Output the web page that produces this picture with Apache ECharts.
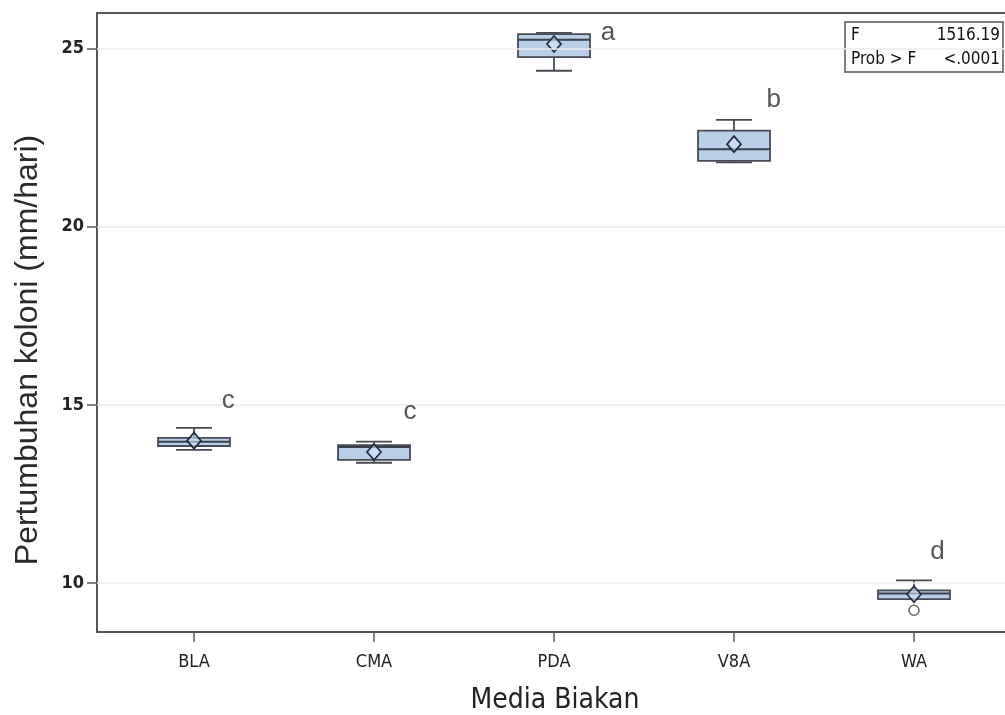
<!DOCTYPE html>
<html>
<head>
<meta charset="utf-8">
<script src="https://cdn.jsdelivr.net/npm/echarts@6/dist/echarts.min.js"></script>
<style>
html,body{margin:0;padding:0;background:#fff;}
#chart{width:1005px;height:715px;}
</style>
</head>
<body>
<div id="chart"></div>
<script>
// ---- data ----
var categories = ['BLA', 'CMA', 'PDA', 'V8A', 'WA'];
var lowWhisker = [13.74, 13.38, 24.38, 21.81, 9.55];
var q1Values   = [13.85, 13.46, 24.76, 21.85, 9.55];
var medians    = [13.97, 13.82, 25.25, 22.18, 9.71];
var q3Values   = [14.08, 13.87, 25.41, 22.70, 9.80];
var highWhisker= [14.36, 13.97, 25.44, 23.00, 10.08];
var means      = [14.00, 13.68, 25.13, 22.32, 9.69];
var outliers   = [[4, 9.24]];
var sigLetters = ['c', 'c', 'a', 'b', 'd'];
var letterX    = [0.19, 0.20, 0.30, 0.22, 0.13];
var letterY    = [15.13, 14.82, 25.45, 23.57, 10.87];
var yTicks = [10, 15, 20, 25];
var xTicks = [0, 1, 2, 3, 4];
var fStat = '1516.19';
var pValue = '<.0001';

var boxData = categories.map(function (c, i) {
  return [i, lowWhisker[i], q1Values[i], medians[i], q3Values[i], highWhisker[i], means[i]];
});
var letterData = sigLetters.map(function (l, i) { return [i + letterX[i], letterY[i], l]; });

var narrow = "'Liberation Sans Narrow', 'DejaVu Sans Condensed', 'Liberation Sans', sans-serif";
var sans = "'Liberation Sans', Arial, sans-serif";
var frameColor = '#555';

function renderBox(params, api) {
  var x = api.value(0);
  var unit = api.size([1, 0])[0];
  var hw = unit * 0.2, cw = unit * 0.1;
  var pLow = api.coord([x, api.value(1)]);
  var pQ1 = api.coord([x, api.value(2)]);
  var pMed = api.coord([x, api.value(3)]);
  var pQ3 = api.coord([x, api.value(4)]);
  var pHigh = api.coord([x, api.value(5)]);
  var pMean = api.coord([x, api.value(6)]);
  var cx = pMed[0];
  var lineStyle = { stroke: '#474c54', lineWidth: 1.8, fill: null };
  var children = [
    { type: 'line', shape: { x1: cx, y1: pHigh[1], x2: cx, y2: pQ3[1] }, style: lineStyle },
    { type: 'line', shape: { x1: cx, y1: pLow[1], x2: cx, y2: pQ1[1] }, style: lineStyle },
    { type: 'line', shape: { x1: cx - cw, y1: pHigh[1], x2: cx + cw, y2: pHigh[1] }, style: lineStyle },
    { type: 'line', shape: { x1: cx - cw, y1: pLow[1], x2: cx + cw, y2: pLow[1] }, style: lineStyle },
    { type: 'rect', shape: { x: cx - hw, y: pQ3[1], width: 2 * hw, height: pQ1[1] - pQ3[1] },
      style: { fill: '#b9cee9', stroke: '#474c54', lineWidth: 1.8 } },
    { type: 'line', shape: { x1: cx - hw, y1: pMed[1], x2: cx + hw, y2: pMed[1] }, style: { stroke: '#38414c', lineWidth: 2 } },
    { type: 'polygon', shape: { points: [[pMean[0], pMean[1] - 8], [pMean[0] + 7, pMean[1]], [pMean[0], pMean[1] + 8], [pMean[0] - 7, pMean[1]]] },
      style: { fill: 'rgba(215,228,245,0.6)', stroke: '#1f2a44', lineWidth: 1.7 } }
  ];
  return { type: 'group', children: children };
}

var chart = echarts.init(document.getElementById('chart'), null, { renderer: 'canvas' });
chart.setOption({
  backgroundColor: '#fff',
  animation: false,
  grid: { left: 97, top: 13, right: -8, bottom: 83, show: false, outerBoundsMode: 'none', containLabel: false },
  xAxis: [{
    type: 'value', min: -0.539, max: 4.55,
    name: 'Media Biakan', nameLocation: 'middle', nameGap: 55,
    nameTextStyle: { fontFamily: narrow, fontSize: 28, color: '#222' },
    axisLine: { show: true, onZero: false, lineStyle: { color: frameColor, width: 2 } },
    axisTick: { show: true, length: 10, customValues: xTicks, lineStyle: { color: frameColor, width: 1.5 } },
    axisLabel: { customValues: xTicks, margin: 21, fontFamily: narrow, fontSize: 18, color: '#222',
      formatter: function (v) { return categories[Math.round(v)] || ''; } },
    splitLine: { show: false }
  }, {
    type: 'value', position: 'top', min: -0.539, max: 4.55,
    axisLine: { show: true, onZero: false, lineStyle: { color: frameColor, width: 2 } },
    axisTick: { show: false }, axisLabel: { show: false }, splitLine: { show: false }
  }],
  yAxis: {
    type: 'value', min: 8.63, max: 26.0,
    axisLine: { show: true, onZero: false, lineStyle: { color: frameColor, width: 2 } },
    axisTick: { show: true, length: 10, customValues: yTicks, lineStyle: { color: frameColor, width: 1.5 } },
    axisLabel: { customValues: yTicks, margin: 13, fontFamily: narrow, fontSize: 18, fontWeight: 'bold', color: '#222' },
    splitLine: { show: false }
  },
  graphic: [
    { type: 'text', x: 28, y: 350, rotation: Math.PI / 2,
      style: { text: 'Pertumbuhan koloni (mm/hari)', font: '32px ' + sans, fill: '#2a2a2a', textAlign: 'center', textVerticalAlign: 'middle' } },
    { type: 'rect', shape: { x: 845, y: 22, width: 158, height: 50 }, style: { fill: '#fff', stroke: '#555', lineWidth: 1.5 } },
    { type: 'text', x: 851, y: 36, style: { text: 'F', font: '17px ' + narrow, fill: '#111', textAlign: 'left', textVerticalAlign: 'middle' } },
    { type: 'text', x: 1000, y: 36, style: { text: fStat, font: '17px ' + narrow, fill: '#111', textAlign: 'right', textVerticalAlign: 'middle' } },
    { type: 'text', x: 851, y: 60, style: { text: 'Prob > F', font: '17px ' + narrow, fill: '#111', textAlign: 'left', textVerticalAlign: 'middle' } },
    { type: 'text', x: 1000, y: 60, style: { text: pValue, font: '17px ' + narrow, fill: '#111', textAlign: 'right', textVerticalAlign: 'middle' } }
  ],
  series: [
    {
      type: 'custom', name: 'box', renderItem: renderBox, data: boxData,
      encode: { x: 0, y: [1, 5] }, z: 3,
      markLine: {
        silent: true, symbol: ['none', 'none'], label: { show: false },
        lineStyle: { color: '#ececec', width: 1.5, type: 'solid' },
        data: yTicks.map(function (t) { return { yAxis: t }; })
      }
    },
    {
      type: 'scatter', name: 'outlier', data: outliers, symbol: 'circle', symbolSize: 10, z: 4,
      itemStyle: { color: '#fff', borderColor: '#444', borderWidth: 1.5 }
    },
    {
      type: 'scatter', name: 'letters', data: letterData, symbolSize: 0, z: 5,
      label: { show: true, position: 'inside', formatter: function (p) { return p.data[2]; },
        fontFamily: sans, fontSize: 26, color: '#2a2a2a' }
    }
  ]
});
</script>
</body>
</html>
